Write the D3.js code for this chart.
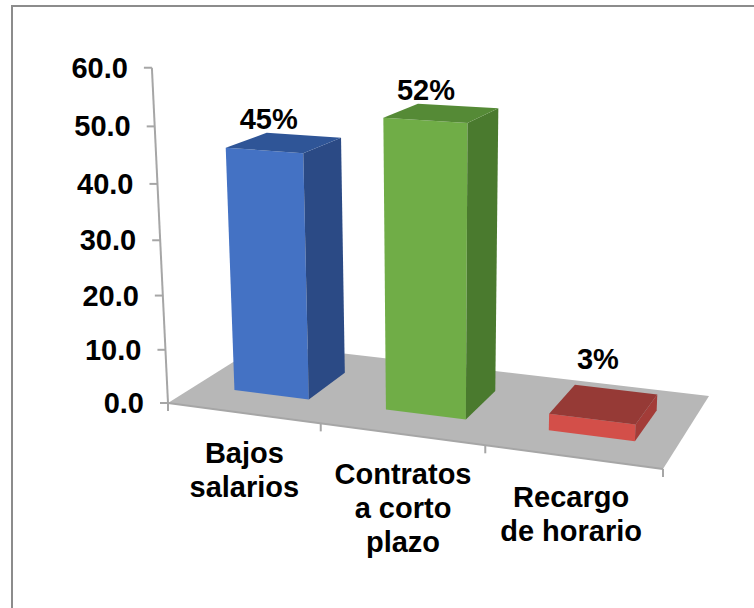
<!DOCTYPE html>
<html><head><meta charset="utf-8">
<script src="https://cdn.jsdelivr.net/npm/d3@7"></script>
<style>html,body{margin:0;padding:0;background:#fff}svg{display:block}
text{font-family:"Liberation Sans",Arial,sans-serif;font-weight:bold;fill:#000}</style>
</head><body><svg id="c" width="754" height="608"></svg>
<script>
const categories = [["Bajos","salarios"],["Contratos","a corto","plazo"],["Recargo","de horario"]];
const values = [45,52,3];
const dataLabels = ["45%","52%","3%"];
const yTicks = [0,10,20,30,40,50,60];
const frontColors = ["#4472c4","#70ad47","#d34f49"];
const topColors = ["#2f5597","#558a36","#963a36"];
const sideColors = ["#2b4a85","#4a7a2e","#a33c38"];

// Projection anchors and label nudges (layout, not data)
const floorCorners = [[168,403],[663,469],[709,396],[262,344]];
const vanish = [435,5960];
const kHeight = -0.0569;
const dataLabelNudge = [[2,-4],[8,-4],[23,-16]];
const catLabelNudge = [0,0,-3];
const fontSize = 29;

function homography(c){
  const [[x0,y0],[x1,y1],[x2,y2],[x3,y3]] = c;
  const dx1=x1-x2,dx2=x3-x2,sx=x0-x1+x2-x3,dy1=y1-y2,dy2=y3-y2,sy=y0-y1+y2-y3;
  const den=dx1*dy2-dx2*dy1;
  const g=(sx*dy2-dx2*sy)/den,h=(dx1*sy-sx*dy1)/den;
  return [x1-x0+g*x1,x3-x0+h*x3,x0,y1-y0+g*y1,y3-y0+h*y3,y0,g,h,1];
}
const H = homography(floorCorners);
function project(u,v,d){
  const X=H[0]*u+H[1]*d+H[2],Y=H[3]*u+H[4]*d+H[5],W=H[6]*u+H[7]*d+H[8];
  const k=kHeight*v;
  return [(X+k*vanish[0])/(W+k),(Y+k*vanish[1])/(W+k)];
}
const xBand = d3.scaleBand().domain(d3.range(values.length)).range([0.004,1.004]).paddingInner(0.5).paddingOuter(0.25);
const xCat = d3.scalePoint().domain(d3.range(values.length+1)).range([0,1]);
const yVal = d3.scaleLinear().domain([0,60]).range([0,1]);
const depth = d3.scaleLinear().domain([0,1]).range([0.28,0.71]);

const svg = d3.select("#c");
const axisColor="#a6a6a6";
svg.append("path").attr("d",d3.line()([[12,608],[12,6],[754,6]])).attr("fill","none").attr("stroke","#8c8c8c").attr("stroke-width",2);

const poly = pts => d3.line()(pts)+"Z";
svg.append("path").attr("d",poly(floorCorners)).attr("fill","#b7b7b7");

const line=(a,b)=>svg.append("path").attr("d",d3.line()([a,b])).attr("stroke",axisColor).attr("stroke-width",2).attr("fill","none");
line(project(0,0,0),project(0,1,0));
yTicks.forEach(t=>{
  const p=project(0,yVal(t),0);
  line([p[0]-8,p[1]],p);
  svg.append("text").attr("x",p[0]-24).attr("y",p[1]+10).attr("text-anchor","end").attr("font-size",fontSize).text(t.toFixed(1));
});
line(project(0,0,0),project(1,0,0));
xCat.domain().forEach(i=>{
  const p=project(xCat(i),0,0);
  line(p,[p[0],p[1]+8]);
});

values.forEach((val,i)=>{
  const u0=xBand(i),u1=u0+xBand.bandwidth(),d0=depth(0),d1=depth(1),v=yVal(val);
  const fl=project(u0,0,d0),fr=project(u1,0,d0),br=project(u1,0,d1);
  const tl=project(u0,v,d0),tr=project(u1,v,d0),tbr=project(u1,v,d1),tbl=project(u0,v,d1);
  svg.append("path").attr("d",poly([tl,tr,fr,fl])).attr("fill",frontColors[i]);
  svg.append("path").attr("d",poly([tr,tbr,br,fr])).attr("fill",sideColors[i]);
  svg.append("path").attr("d",poly([tl,tr,tbr,tbl])).attr("fill",topColors[i]);
  svg.append("text").attr("x",tbl[0]+dataLabelNudge[i][0]).attr("y",tbl[1]+dataLabelNudge[i][1]).attr("text-anchor","middle").attr("font-size",fontSize).text(dataLabels[i]);
});

categories.forEach((ls,i)=>{
  const a=project(xCat(i),0,0),b=project(xCat(i+1),0,0);
  const cx=(a[0]+b[0])/2+catLabelNudge[i], top=(a[1]+b[1])/2+50;
  ls.forEach((s,j)=>svg.append("text").attr("x",cx).attr("y",top+j*34).attr("text-anchor","middle").attr("font-size",fontSize).text(s));
});
</script></body></html>
